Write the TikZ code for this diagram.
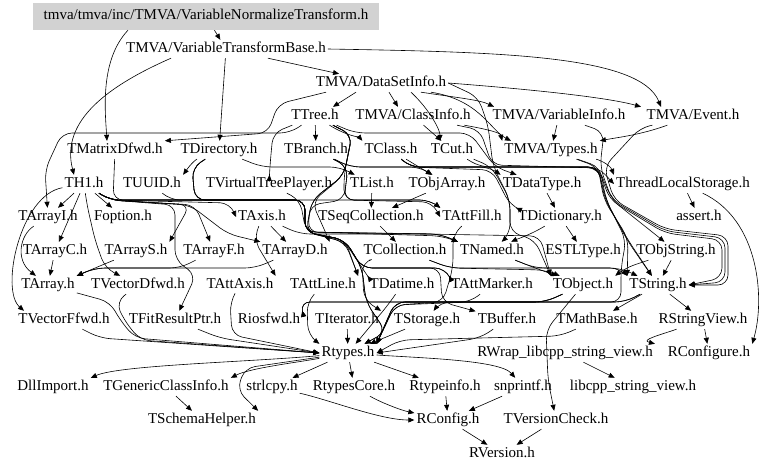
\documentclass[tikz,border=0pt]{standalone}
\usepackage{fontspec}
\setmainfont{Liberation Serif}
\usetikzlibrary{arrows.meta}
\newcommand\dfont{\fontsize{15}{17}\selectfont}
\tikzset{
  nd/.style={font=\dfont, inner sep=2pt, text height=10.5pt, text depth=3.5pt},
  rootbox/.style={nd, fill=gray!35, minimum width=346pt, minimum height=27pt},
  e/.style={draw=black, -{Triangle[length=6pt,width=5pt]}, line width=0.6pt, rounded corners=10pt}
}
\begin{document}
\begin{tikzpicture}[x=1pt,y=-1pt]
\useasboundingbox (0,0) rectangle (768,473);
% nodes
\node[rootbox] (root) at (206,16.5) {tmva/tmva/inc/TMVA/VariableNormalizeTransform.h};
\node[nd] (vtb) at (226,49) {TMVA/VariableTransformBase.h};
\node[nd] (dsi) at (381,83) {TMVA/DataSetInfo.h};
\node[nd] (ttree) at (315,116) {TTree.h};
\node[nd] (cinfo) at (413,116) {TMVA/ClassInfo.h};
\node[nd] (vinfo) at (559,116) {TMVA/VariableInfo.h};
\node[nd] (event) at (693,116) {TMVA/Event.h};
\node[nd] (matrix) at (115,150) {TMatrixDfwd.h};
\node[nd] (tdir) at (219,150) {TDirectory.h};
\node[nd] (tbranch) at (316,150) {TBranch.h};
\node[nd] (tclass) at (391,150) {TClass.h};
\node[nd] (tcut) at (452,150) {TCut.h};
\node[nd] (types) at (551,150) {TMVA/Types.h};
\node[nd] (th1) at (84,184) {TH1.h};
\node[nd] (tuuid) at (152,184) {TUUID.h};
\node[nd] (tvtp) at (269,184) {TVirtualTreePlayer.h};
\node[nd] (tlist) at (372,184) {TList.h};
\node[nd] (tobjarr) at (447,184) {TObjArray.h};
\node[nd] (tdtype) at (542,184) {TDataType.h};
\node[nd] (tls) at (683,184) {ThreadLocalStorage.h};
\node[nd] (tarri) at (48,217) {TArrayI.h};
\node[nd] (foption) at (123,217) {Foption.h};
\node[nd] (taxis) at (262,217) {TAxis.h};
\node[nd] (tseq) at (371,217) {TSeqCollection.h};
\node[nd] (tattfill) at (472,217) {TAttFill.h};
\node[nd] (tdict) at (560,217) {TDictionary.h};
\node[nd] (assert) at (699,217) {assert.h};
\node[nd] (tarrc) at (55,251) {TArrayC.h};
\node[nd] (tarrs) at (136,251) {TArrayS.h};
\node[nd] (tarrf) at (214,251) {TArrayF.h};
\node[nd] (tarrd) at (295,251) {TArrayD.h};
\node[nd] (tcoll) at (405,251) {TCollection.h};
\node[nd] (tnamed) at (492,251) {TNamed.h};
\node[nd] (estl) at (583,251) {ESTLType.h};
\node[nd] (tobjstr) at (676,251) {TObjString.h};
\node[nd] (tarray) at (48,285) {TArray.h};
\node[nd] (tvecd) at (138,285) {TVectorDfwd.h};
\node[nd] (tattaxis) at (240,285) {TAttAxis.h};
\node[nd] (tattline) at (323,285) {TAttLine.h};
\node[nd] (tdatime) at (402,285) {TDatime.h};
\node[nd] (tattmarker) at (492,285) {TAttMarker.h};
\node[nd] (tobject) at (583,285) {TObject.h};
\node[nd] (tstring) at (658,285) {TString.h};
\node[nd] (tvecf) at (64,320) {TVectorFfwd.h};
\node[nd] (tfit) at (175,320) {TFitResultPtr.h};
\node[nd] (riosfwd) at (269,320) {Riosfwd.h};
\node[nd] (titer) at (347,320) {TIterator.h};
\node[nd] (tstorage) at (427,320) {TStorage.h};
\node[nd] (tbuffer) at (507,320) {TBuffer.h};
\node[nd] (tmathbase) at (597,320) {TMathBase.h};
\node[nd] (rsv) at (703,320) {RStringView.h};
\node[nd] (rtypes) at (348,353) {Rtypes.h};
\node[nd] (rwrap) at (565,353) {RWrap\_libcpp\_string\_view.h};
\node[nd] (rconfigure) at (709,353) {RConfigure.h};
\node[nd] (dllimport) at (53,387) {DllImport.h};
\node[nd] (tgci) at (166,387) {TGenericClassInfo.h};
\node[nd] (strlcpy) at (272,387) {strlcpy.h};
\node[nd] (rtypescore) at (354,387) {RtypesCore.h};
\node[nd] (rtypeinfo) at (445,387) {Rtypeinfo.h};
\node[nd] (snprintf) at (523,387) {snprintf.h};
\node[nd] (libcpp) at (633,387) {libcpp\_string\_view.h};
\node[nd] (tschema) at (202,420) {TSchemaHelper.h};
\node[nd] (rconfig) at (448,420) {RConfig.h};
\node[nd] (tvcheck) at (556,420) {TVersionCheck.h};
\node[nd] (rversion) at (502,454) {RVersion.h};
% edges: top
\draw[e] (root) -- (vtb);
\draw[e] ([xshift=-78pt]root.south) .. controls (100,60) and (105,110) .. ([xshift=-8pt]matrix.north);
\draw[e] (vtb) -- (dsi);
\draw[e] (vtb.east) .. controls (500,52) and (640,55) .. ([xshift=-32pt]event.north);
\draw[e] ([xshift=-55pt]vtb.south) .. controls (110,85) and (60,120) .. ([xshift=-10pt]th1.north);
\draw[e] (vtb) -- (tdir);
% DataSetInfo
\draw[e] ([xshift=-25pt]dsi.south) -- ([xshift=18pt]ttree.north);
\draw[e] ([xshift=8pt]dsi.south) -- ([xshift=-15pt]cinfo.north);
\draw[e] ([xshift=40pt]dsi.south) .. controls (460,98) and (480,100) .. ([xshift=-65pt]vinfo.north);
\draw[e] (dsi.east) .. controls (540,90) and (610,98) .. ([xshift=-52pt]event.north);
\draw[e] ([xshift=50pt]dsi.south) .. controls (480,100) and (490,130) .. ([xshift=-40pt]types.north);
\draw[e] ([xshift=-55pt]dsi.south) -- (278,104) -- (268,133) -- (matrix.north east);
\draw[e] ([xshift=30pt]dsi.south) .. controls (430,110) and (440,130) .. ([xshift=-12pt]tcut.north);
\draw[e] (dsi.east) -- (478,97) -- (488,125) -- (493,166) -- (510,200) -- (510,232) -- (535,240) -- (tobject.north west);
% TTree
\draw[e] (ttree) -- (tbranch);
\draw[e] (ttree) -- (290,133) -- (62,133) -- (45,170) -- (tarri);
\draw[e] (ttree) -- (273,133) -- (270,165) -- (tvtp);
\draw[e] (ttree) .. controls (345,135) and (360,138) .. (tclass.north west);
\draw[e] (ttree) -- (355,133) -- (470,133) -- (495,167) -- (tdtype);
\draw[e] (ttree) -- (352,135) -- (344,175) -- (312,202) -- (tarrd.north east);
\draw[e] (ttree) -- (352,135) -- (344,175) -- (344,200) -- (430,200) -- (tattfill.north west);
\draw[e] (ttree) -- (352,135) -- (344,175) -- (312,200) -- (306,232) -- (345,242) -- (tattline.north east);
\draw[e] (ttree) -- (352,135) -- (344,175) -- (312,200) -- (306,232) -- (345,242) -- (362,268) -- (445,268) -- (tattmarker.north west);
% ClassInfo / VariableInfo / Event / Types
\draw[e] (cinfo) -- (tcut);
\draw[e] (cinfo) .. controls (480,128) and (500,132) .. (types.north west);
\draw[e] (cinfo) -- (480,130) -- (492,165) -- (598,168) -- (610,200) -- (665,233) -- (722,240) -- (722,278) -- (tstring.east);
\draw[e] (vinfo) -- (types);
\draw[e] (vinfo) -- (604,132) -- (600,167) -- (612,200) -- (665,231) -- (725,238) -- (725,282) -- (tstring.east);
\draw[e] (event) .. controls (640,135) and (620,137) .. (types.north east);
\draw[e] (event) -- (640,128) -- (604,167) -- (614,200) -- (665,229) -- (728,236) -- (728,285) -- (tstring.east);
\draw[e] (types) .. controls (600,160) and (610,165) .. (tls.north west);
\draw[e] (types) -- (600,167) -- (606,200) -- (626,240) -- (621,268) -- (621,302) -- (395,302) -- (rtypes.north east);
\draw[e] (types) -- (598,167) -- (604,200) -- (628,238) -- (tstring.north west);
% row 4
\draw[e] (matrix) -- (113,200) -- (305,200) -- (305,232) -- (345,240) -- (362,268) -- (366,302) -- (386,332) -- (rtypes);
\draw[e] (tdir) .. controls (195,160) and (190,165) .. (tuuid.north east);
\draw[e] (tdir) -- (262,167) -- (340,167) -- (tlist);
\draw[e] (tdir) -- (192,168) -- (195,200) -- (305,200) -- (305,232) -- (440,234) -- (tnamed.north west);
\draw[e] (tdir) -- (192,168) -- (195,200) -- (305,200) -- (305,232) -- (345,240) -- (362,268) -- (tdatime.north west);
\draw[e] (tdir) -- (192,168) -- (195,200) -- (305,200) -- (305,232) -- (345,240) -- (362,268) -- (440,268) -- (442,302) -- (tbuffer);
\draw[e] (tbranch) -- (350,167) -- (420,167) -- (tobjarr);
\draw[e] (tbranch) -- (348,167) -- (344,200) -- (432,202) -- (tattfill.west);
\draw[e] (tbranch) -- (350,167) -- (490,167) -- (tdtype.north west);
\draw[e] (tbranch) -- (348,167) -- (344,200) -- (310,205) -- (308,232) -- (442,236) -- (tnamed.north west);
\draw[e] (tclass) -- (410,167) -- (492,170) -- (510,205) -- (tdict.north west);
\draw[e] (tclass) -- (tobjarr);
\draw[e] (tclass) -- (410,167) -- (598,167) -- (605,200) -- (628,240) -- (tstring);
\draw[e] (tclass) -- (410,167) -- (598,167) -- (612,200) -- (tobjstr);
\draw[e] (tclass) -- (410,167) -- (598,167) -- (tls.west);
\draw[e] (tcut) -- (492,167) -- (510,200) -- (510,234) -- (tnamed);
\draw[e] (tcut) -- (480,167) -- (598,167) -- (606,200) -- (627,240) -- (tstring);
% row 5
\draw[e] (th1) -- (tarri);
\draw[e] (th1) -- (foption);
\draw[e] (th1) -- (tarrc);
\draw[e] (th1) -- (110,200) -- (230,203) -- (taxis.west);
\draw[e] (th1) -- (110,200) -- (190,205) -- (tarrs.north east);
\draw[e] (th1) -- (110,200) -- (195,205) -- (tarrf);
\draw[e] (th1) -- (110,200) -- (190,205) -- (228,234) -- (tarrd.north west);
\draw[e] (th1) .. controls (20,195) and (0,290) .. ([xshift=-40pt]tvecf.north);
\draw[e] (th1) -- (87,205) -- (95,240) -- (105,268) -- (tvecd);
\draw[e] (th1) -- (110,200) -- (175,205) -- (175,260) -- (196,275) -- (tfit);
\draw[e] (th1) -- (110,200) -- (305,200) -- (305,232) -- (345,240) -- (tattline.north east);
\draw[e] (th1) -- (110,200) -- (305,200) -- (305,232) -- (345,240) -- (362,268) -- (445,268) -- (tattmarker.north west);
\draw[e] (th1) -- (110,200) -- (305,200) -- (430,200) -- (tattfill.north west);
\draw[e] (tuuid) -- (170,200) -- (305,200) -- (305,232) -- (345,240) -- (362,268) -- (366,302) -- (386,332) -- (rtypes);
\draw[e] (tvtp) -- (300,200) -- (306,232) -- (540,236) -- (tobject.north west);
\draw[e] (tlist) -- (tseq);
\draw[e] (tobjarr) -- (tseq);
\draw[e] (tdtype) -- (tdict);
\draw[e] (tls) .. controls (760,220) and (765,300) .. (rconfigure.north east);
\draw[e] (tls) -- (assert);
% row 6
\draw[e] (tarri) .. controls (20,235) and (15,260) .. (tarray);
\draw[e] (taxis) -- (300,234) -- (440,234) -- (tnamed.north west);
\draw[e] (taxis) -- (254,240) -- (tattaxis.north east);
\draw[e] (taxis) -- (tarrd);
\draw[e] (tseq) -- (tcoll);
\draw[e] (tattfill) -- (453,234) -- (453,268) -- (443,302) -- (395,305) -- (rtypes.north east);
\draw[e] (tdict) -- (estl);
\draw[e] (tdict) .. controls (530,235) and (515,240) .. (tnamed);
% row 7
\draw[e] (tarrc) -- (tarray);
\draw[e] (tarrs) -- (95,268) -- (tarray.north east);
\draw[e] (tarrf) -- (180,268) -- (95,268) -- (tarray.north east);
\draw[e] (tarrd) -- (255,268) -- (95,268) -- (tarray.north east);
\draw[e] (tcoll) -- (450,268) -- (545,270) -- (tobject);
\draw[e] (tcoll) -- (362,262) -- (364,300) -- (titer.north east);
\draw[e] (tcoll) -- (450,268) -- (620,268) -- (tstring.north west);
\draw[e] (tnamed) -- (535,268) -- (tobject);
\draw[e] (tnamed) -- (535,268) -- (620,268) -- (tstring);
\draw[e] (tobjstr) -- (tstring);
\draw[e] (tobjstr) -- (625,268) -- (tobject.north east);
% row 8
\draw[e] (tarray) -- (110,302) -- (120,320) -- (135,338) -- (rtypes.west);
\draw[e] (tvecd) -- (116,302) -- (124,320) -- (140,340) -- (rtypes.west);
\draw[e] (tattaxis) -- (230,302) -- (232,335) -- (rtypes.west);
\draw[e] (tattline) -- (307,302) -- (308,335) -- (rtypes.north west);
\draw[e] (tdatime) -- (388,305) -- (rtypes);
\draw[e] (tattmarker) -- (470,302) -- (395,305) -- (rtypes.north east);
\draw[e] (tobject) -- (545,302) -- (395,302) -- (rtypes.north east);
\draw[e] (tobject) -- (545,302) -- (440,302) -- (tstorage);
\draw[e] (tobject) -- (545,302) -- (300,302) -- (riosfwd.north east);
\draw[e] (tobject) -- (546,330) -- (548,380) -- (tvcheck);
\draw[e] (tstring) -- (625,302) -- (395,302) -- (rtypes.north east);
\draw[e] (tstring) -- (tmathbase);
\draw[e] (tstring) -- (rsv);
\draw[e] (tstring) -- (625,302) -- (300,302) -- (riosfwd.north east);
% row 9
\draw[e] (tvecf) -- (100,338) -- (rtypes.west);
\draw[e] (tfit) -- (220,338) -- (rtypes.west);
\draw[e] (titer) -- (rtypes);
\draw[e] (tstorage) -- (rtypes);
\draw[e] (tbuffer) -- (480,338) -- (rtypes.east);
\draw[e] (tmathbase) -- (560,336) -- (400,340) -- (rtypes.east);
\draw[e] (rsv) -- (rconfigure);
\draw[e] (rsv) .. controls (660,335) and (640,340) .. (rwrap.north east);
\draw[e] (rwrap) -- (libcpp);
% Rtypes
\draw[e] (rtypes) .. controls (250,362) and (120,365) .. (dllimport.north east);
\draw[e] (rtypes) .. controls (300,362) and (250,368) .. (tgci.north east);
\draw[e] (rtypes) -- (strlcpy);
\draw[e] (rtypes) -- (rtypescore);
\draw[e] (rtypes) -- (rtypeinfo);
\draw[e] (rtypes) .. controls (420,358) and (500,360) .. (snprintf);
\draw[e] (rtypes) -- (245,368) -- (237,390) -- (tschema.north east);
\draw[e] (tgci) -- (tschema);
\draw[e] (rtypescore) .. controls (380,402) and (400,410) .. (rconfig);
\draw[e] (strlcpy) .. controls (330,400) and (380,420) .. (rconfig);
\draw[e] (rtypeinfo) -- (rconfig);
\draw[e] (snprintf) -- (rconfig);
\draw[e] (rconfig) -- (rversion);
\draw[e] (tvcheck) -- (rversion);
\end{tikzpicture}
\end{document}
